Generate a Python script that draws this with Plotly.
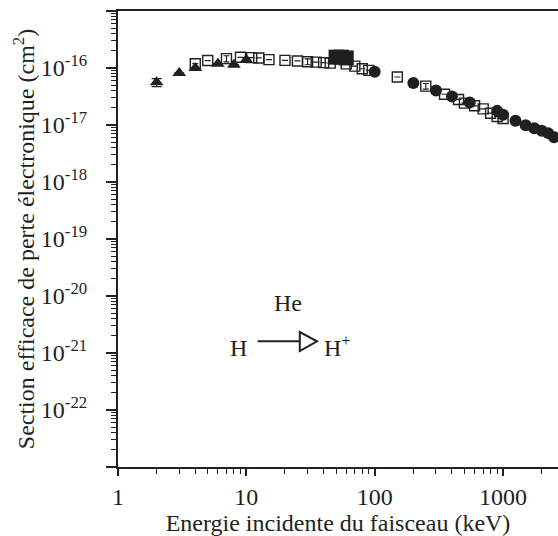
import plotly.graph_objects as go

# ---- data ----
tri_x = [2, 3, 4, 6, 8, 10]
tri_y = [5.6e-17, 8.2e-17, 1.0e-16, 1.19e-16, 1.14e-16, 1.40e-16]
tri_err = [0.9e-17, None, None, None, None, 1.2e-17]

osq_x = [4, 5, 7, 9, 11, 12.5, 15, 20, 25, 30, 35, 40, 45, 60, 70, 80, 90,
         150, 250, 350, 450, 500, 600, 700, 800, 900, 1000]
osq_y = [1.19e-16, 1.35e-16, 1.46e-16, 1.54e-16, 1.52e-16, 1.50e-16, 1.40e-16,
         1.36e-16, 1.33e-16, 1.29e-16, 1.27e-16, 1.24e-16, 1.22e-16, 1.18e-16,
         1.08e-16, 9.7e-17, 9.1e-17, 6.95e-17, 4.8e-17, 3.46e-17, 2.8e-17,
         2.42e-17, 2.17e-17, 1.92e-17, 1.61e-17, 1.41e-17, 1.30e-17]
osq_err = [None, None, 1.8e-17, None, None, None, None, None, None, 1.5e-17,
           None, None, None, None, None, None, None, None, 5.5e-18, None, None,
           None, None, None, None, None, None]

fsq_x = [50, 55, 60]
fsq_y = [1.55e-16, 1.55e-16, 1.50e-16]

cir_x = [100, 200, 300, 400, 550, 900, 1000, 1250, 1500, 1750, 2000, 2250, 2500]
cir_y = [8.6e-17, 5.45e-17, 4.03e-17, 3.16e-17, 2.48e-17, 1.77e-17, 1.51e-17,
         1.19e-17, 9.9e-18, 8.8e-18, 7.9e-18, 7.2e-18, 6.1e-18]

x_ticks = [1, 10, 100, 1000]
x_ticktext = ["1", "10", "100", "1000"]
x_minor = [k * 10 ** n for n in range(0, 4) for k in range(2, 10)]
y_exps = list(range(-23, -14))
y_ticks = [10.0 ** e for e in y_exps]
y_ticktext = ["" if e in (-23, -15) else "10<sup>%d</sup>" % e for e in y_exps]
y_minor = [k * 10.0 ** n for n in range(-23, -15) for k in range(2, 10)]

INK = "#231f20"
FONT = "Liberation Serif"

fig = go.Figure()

fig.add_trace(go.Scatter(
    x=osq_x, y=osq_y, mode="markers",
    marker=dict(symbol="square-open", size=10, color=INK, line=dict(width=1.4, color=INK)),
    error_y=dict(type="data", array=osq_err, visible=True, color=INK, thickness=1.2, width=3),
    showlegend=False))
fig.add_trace(go.Scatter(
    x=tri_x, y=tri_y, mode="markers",
    marker=dict(symbol="triangle-up", size=12, color=INK),
    error_y=dict(type="data", array=tri_err, visible=True, color=INK, thickness=1.2, width=5),
    showlegend=False))
fig.add_trace(go.Scatter(
    x=cir_x, y=cir_y, mode="markers",
    marker=dict(symbol="circle", size=12, color=INK),
    showlegend=False))
fig.add_trace(go.Scatter(
    x=fsq_x, y=fsq_y, mode="markers",
    marker=dict(symbol="square", size=15, color=INK),
    showlegend=False))

# reaction label
def px2paper(px, py):
    return (px - 117.5) / 440.5, (466.7 - py) / 456.0

hx, hy = px2paper(287.3, 303)
fig.add_annotation(x=hx, y=hy, xref="paper", yref="paper", text="He", showarrow=False,
                   font=dict(family=FONT, size=24, color=INK), xanchor="center", yanchor="middle")
hx, hy = px2paper(238.3, 348)
fig.add_annotation(x=hx, y=hy, xref="paper", yref="paper", text="H", showarrow=False,
                   font=dict(family=FONT, size=24, color=INK), xanchor="center", yanchor="middle")
hx, hy = px2paper(321.5, 346)
fig.add_annotation(x=hx, y=hy, xref="paper", yref="paper", text="H<sup>+</sup>", showarrow=False,
                   font=dict(family=FONT, size=24, color=INK), xanchor="left", yanchor="middle")
x0, y0 = px2paper(257.3, 341)
x1, _ = px2paper(300, 341)
fig.add_shape(type="line", xref="paper", yref="paper", x0=x0, y0=y0, x1=x1, y1=y0,
              line=dict(color=INK, width=2))
ax, ay1 = px2paper(299.5, 331.7)
_, ay2 = px2paper(299.5, 350.7)
tx, ty = px2paper(316.7, 341)
fig.add_shape(type="path", xref="paper", yref="paper",
              path="M %f %f L %f %f L %f %f Z" % (ax, ay1, ax, ay2, tx, ty),
              line=dict(color=INK, width=2), fillcolor="rgba(0,0,0,0)")

fig.update_layout(
    template="none",
    width=558, height=536,
    margin=dict(l=118, r=0, t=11, b=69, autoexpand=False),
    paper_bgcolor="white", plot_bgcolor="white",
    font=dict(family=FONT, size=24, color=INK),
    xaxis=dict(
        type="log", range=[0, 440.5 / 128.5], automargin=False,
        tickmode="array", tickvals=x_ticks, ticktext=x_ticktext,
        ticks="outside", ticklen=7, tickwidth=1.5, tickcolor=INK,
        minor=dict(tickmode="array", tickvals=x_minor, ticks="outside", ticklen=5,
                   tickwidth=1.2, tickcolor=INK, showgrid=False),
        showline=True, linecolor=INK, linewidth=2, mirror=True,
        showgrid=False, zeroline=False,
        tickfont=dict(family=FONT, size=24, color=INK),
        title=dict(text="Energie incidente du faisceau (keV)",
                   font=dict(family=FONT, size=24, color=INK)),
    ),
    yaxis=dict(
        type="log", range=[-23, -15], automargin=False,
        tickmode="array", tickvals=y_ticks, ticktext=y_ticktext,
        ticks="outside", ticklen=10, tickwidth=1.5, tickcolor=INK,
        ticklabelstandoff=14,
        minor=dict(tickmode="array", tickvals=y_minor, ticks="outside", ticklen=5,
                   tickwidth=1, tickcolor=INK, showgrid=False),
        showline=True, linecolor=INK, linewidth=2, mirror=False,
        showgrid=False, zeroline=False,
        tickfont=dict(family=FONT, size=24, color=INK),
        title=dict(text="Section efficace de perte électronique (cm<sup>2</sup>)",
                   font=dict(family=FONT, size=24, color=INK)),
    ),
)

fig.write_html("out.html", config={"displayModeBar": False},
               post_script="document.body.style.margin='0';")
